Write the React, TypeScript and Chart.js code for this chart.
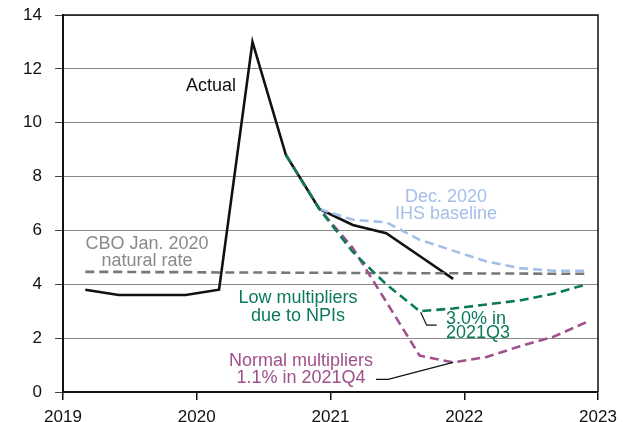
import React, { useEffect, useRef } from "react";
import { Chart, registerables } from "chart.js";

Chart.register(...registerables);

// ---- Data ----
const actualQuarters = ["2019Q1", "2019Q2", "2019Q3", "2019Q4", "2020Q1", "2020Q2", "2020Q3", "2020Q4", "2021Q1", "2021Q2", "2021Q3", "2021Q4"];
const actualValues = [3.8, 3.6, 3.6, 3.6, 3.8, 13.0, 8.8, 6.8, 6.2, 5.9, 5.05, 4.2];

const scenarioQuarters = ["2020Q3", "2020Q4", "2021Q1", "2021Q2", "2021Q3", "2021Q4", "2022Q1", "2022Q2", "2022Q3", "2022Q4"];
const lowMultValues = [8.8, 6.8, 5.2, 4.0, 3.0, 3.1, 3.25, 3.4, 3.65, 4.0];
const normalMultValues = [8.8, 6.8, 5.35, 3.35, 1.35, 1.1, 1.3, 1.7, 2.05, 2.6];

const ihsQuarters = ["2020Q4", "2021Q1", "2021Q2", "2021Q3", "2021Q4", "2022Q1", "2022Q2", "2022Q3", "2022Q4"];
const ihsValues = [6.8, 6.4, 6.3, 5.65, 5.25, 4.85, 4.6, 4.5, 4.5];

const cboQuarters = ["2019Q1", "2019Q2", "2019Q3", "2019Q4", "2020Q1", "2020Q2", "2020Q3", "2020Q4", "2021Q1", "2021Q2", "2021Q3", "2021Q4", "2022Q1", "2022Q2", "2022Q3", "2022Q4"];
const cboValues = [4.46, 4.46, 4.45, 4.45, 4.44, 4.44, 4.43, 4.43, 4.42, 4.42, 4.41, 4.41, 4.4, 4.4, 4.39, 4.39];

const yearTicks = [2019, 2020, 2021, 2022, 2023];
const yTicks = [0, 2, 4, 6, 8, 10, 12, 14];

// ---- Styles ----
const FONT = '"Liberation Sans", Arial, Helvetica, sans-serif';
const C_ACTUAL = "#111111";
const C_LOW = "#0b7a5c";
const C_NORMAL = "#a0508a";
const C_IHS = "#a3bfe8";
const C_CBO = "#777777";

// quarter label -> decimal year used for plotting
function qToYear(q: string): number {
  const y = parseInt(q.slice(0, 4), 10);
  const n = parseInt(q.slice(5), 10);
  return y + (n - 1) / 4 + 2 / 12;
}
function pts(qs: string[], vs: number[]) {
  return qs.map((q, i) => ({ x: qToYear(q), y: vs[i] }));
}

type Label = { lines: string[]; color: string; x: number; y: number; align: CanvasTextAlign; lineH: number };
const labels: Label[] = [
  { lines: ["Actual"], color: "#111111", x: 2020.107, y: 11.4, align: "center", lineH: 17 },
  { lines: ["CBO Jan. 2020", "natural rate"], color: "#8a8a8a", x: 2019.628, y: 5.53, align: "center", lineH: 17 },
  { lines: ["Dec. 2020", "IHS baseline"], color: "#a3bfe8", x: 2021.864, y: 7.28, align: "center", lineH: 17 },
  { lines: ["Low multipliers", "due to NPIs"], color: "#0b7a5c", x: 2020.757, y: 3.53, align: "center", lineH: 18 },
  { lines: ["3.0% in", "2021Q3"], color: "#0b7a5c", x: 2021.864, y: 2.75, align: "left", lineH: 14 },
  { lines: ["Normal multipliers", "1.1% in 2021Q4"], color: "#a0508a", x: 2020.78, y: 1.19, align: "center", lineH: 17 },
];

type Leader = { quarter: string; value: number; offsets: [number, number][] };
const leaders: Leader[] = [
  { quarter: "2021Q3", value: lowMultValues[4], offsets: [[1, 1], [7, 14], [17, 14]] },
  { quarter: "2021Q4", value: normalMultValues[5], offsets: [[0, 0], [-65, 17], [-77, 17]] },
];

const annotationPlugin = {
  id: "annot",
  afterDatasetsDraw(chart: any) {
    const ctx = chart.ctx;
    const xs = chart.scales.x;
    const ys = chart.scales.y;
    ctx.save();
    ctx.strokeStyle = "#111";
    ctx.lineWidth = 1.2;
    ctx.setLineDash([]);
    for (const l of leaders) {
      const px = xs.getPixelForValue(qToYear(l.quarter));
      const py = ys.getPixelForValue(l.value);
      ctx.beginPath();
      l.offsets.forEach(([dx, dy], i) => {
        if (i === 0) ctx.moveTo(px + dx, py + dy);
        else ctx.lineTo(px + dx, py + dy);
      });
      ctx.stroke();
    }
    ctx.font = `18px ${FONT}`;
    ctx.textBaseline = "alphabetic";
    for (const lb of labels) {
      const px = xs.getPixelForValue(lb.x);
      const py = ys.getPixelForValue(lb.y);
      ctx.fillStyle = lb.color;
      ctx.textAlign = lb.align;
      lb.lines.forEach((t, i) => {
        ctx.fillText(t, px, py + 6.4 + i * lb.lineH);
      });
    }
    ctx.restore();
  },
  afterDraw(chart: any) {
    const { ctx, chartArea } = chart;
    ctx.save();
    ctx.strokeStyle = "#111";
    ctx.lineWidth = 1.5;
    ctx.beginPath();
    ctx.moveTo(chartArea.left, chartArea.top);
    ctx.lineTo(chartArea.right, chartArea.top);
    ctx.lineTo(chartArea.right, chartArea.bottom);
    ctx.stroke();
    ctx.restore();
  },
};

export default function App() {
  const ref = useRef<HTMLCanvasElement | null>(null);
  useEffect(() => {
    document.body.style.margin = "0";
    if (!ref.current) return;
    const dashed = (color: string, data: any[], order: number) => ({
      data,
      borderColor: color,
      borderWidth: 2.6,
      borderDash: [9, 5],
      pointRadius: 0,
      fill: false,
      tension: 0,
      order,
    });
    const chart = new Chart(ref.current, {
      type: "line",
      data: {
        datasets: [
          {
            data: pts(actualQuarters, actualValues),
            borderColor: C_ACTUAL,
            borderWidth: 2.6,
            pointRadius: 0,
            fill: false,
            tension: 0,
            order: 5,
          },
          dashed(C_CBO, pts(cboQuarters, cboValues), 4),
          dashed(C_IHS, pts(ihsQuarters, ihsValues), 3),
          dashed(C_NORMAL, pts(scenarioQuarters, normalMultValues), 2),
          dashed(C_LOW, pts(scenarioQuarters, lowMultValues), 1),
        ],
      },
      options: {
        animation: false,
        responsive: false,
        devicePixelRatio: 1,
        layout: { autoPadding: false, padding: { top: 15, right: 29, left: 0, bottom: 0 } },
        plugins: { legend: { display: false }, tooltip: { enabled: false } },
        scales: {
          x: {
            type: "linear",
            min: yearTicks[0],
            max: yearTicks[yearTicks.length - 1],
            afterBuildTicks: (s: any) => {
              s.ticks = yearTicks.map((v) => ({ value: v }));
            },
            afterFit: (s: any) => {
              s.height = 30;
              s.paddingLeft = 0;
              s.paddingRight = 0;
            },
            ticks: {
              callback: (v: any) => String(v),
              font: { family: FONT, size: 17 },
              color: "#111",
              padding: 7,
              maxRotation: 0,
            },
            grid: { drawOnChartArea: false, drawTicks: true, tickLength: 8, color: "#111", lineWidth: 1.5 },
            border: { color: "#111", width: 2 },
          },
          y: {
            type: "linear",
            min: 0,
            max: 14,
            afterBuildTicks: (s: any) => {
              s.ticks = yTicks.map((v) => ({ value: v }));
            },
            afterFit: (s: any) => {
              s.width = 63;
              s.paddingTop = 0;
              s.paddingBottom = 0;
            },
            ticks: {
              font: { family: FONT, size: 17 },
              color: "#111",
              padding: 13,
            },
            grid: { color: "#8a8a8a", lineWidth: 1, tickLength: 8, tickColor: "#444" },
            border: { color: "#111", width: 2 },
          },
        },
      },
      plugins: [annotationPlugin],
    } as any);
    return () => chart.destroy();
  }, []);
  return (
    <div style={{ width: 627, height: 422 }}>
      <canvas ref={ref} width={627} height={422} style={{ display: "block" }} />
    </div>
  );
}
